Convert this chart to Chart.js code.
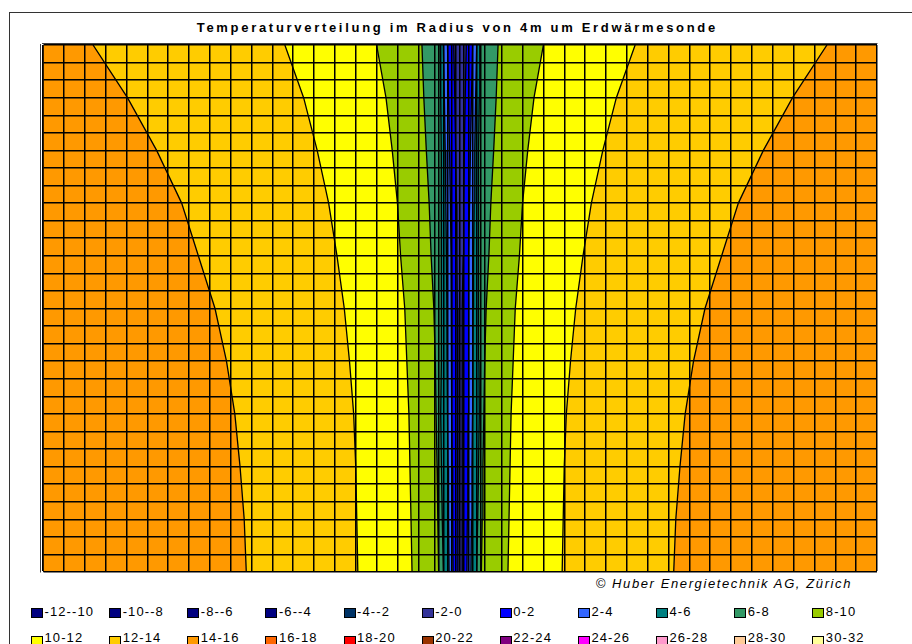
<!DOCTYPE html>
<html lang="de">
<head>
  <meta charset="UTF-8">
  <title>Temperaturverteilung im Radius von 4m um Erdwärmesonde</title>
  <script src="https://cdn.jsdelivr.net/npm/chart.js"></script>
  <style>
    html, body {
      margin: 0;
      width: 912px;
      height: 644px;
      overflow: hidden;
      background: #fff;
      font-family: "Liberation Sans", Arial, sans-serif;
    }
    .frame {
      position: absolute;
      left: 9px;
      top: 12px;
      width: 1000px;
      height: 1000px;
      border-left: 1px solid #333;
      border-top: 1px solid #333;
    }
    .title {
      position: absolute;
      left: 0;
      top: 21px;
      width: 912px;
      text-align: center;
      font-weight: bold;
      font-size: 13px;
      line-height: 13px;
      letter-spacing: 2.7px;
      padding-left: 2.7px;
      box-sizing: border-box;
    }
    .copy {
      position: absolute;
      right: 60px;
      top: 577px;
      font-style: italic;
      font-size: 13px;
      line-height: 13px;
      letter-spacing: 1.6px;
    }
    #chart {
      position: absolute;
      left: 40px;
      top: 43px;
    }
    .lg-box {
      position: absolute;
      width: 10px;
      height: 8px;
      border: 1px solid #000;
    }
    .lg-text {
      position: absolute;
      font-size: 13px;
      line-height: 13px;
      letter-spacing: 1.1px;
      white-space: nowrap;
    }
  </style>
</head>
<body>
  <div class="frame"></div>
  <div class="title">Temperaturverteilung im Radius von 4m um Erdwärmesonde</div>
  <canvas id="chart" width="840" height="532"></canvas>
  <div class="copy">© Huber Energietechnik AG, Zürich</div>
  <div id="legend"></div>

  <script>
    // depth rows (grid rows from top) where the isotherms were read
    const depthRows = [0, 3, 6, 9, 12, 15, 18, 21, 24, 27, 30];

    // radius (m) of each isotherm at those rows
    const iso14 = [3.52, 3.19, 2.91, 2.67, 2.51, 2.35, 2.24, 2.16, 2.11, 2.07, 2.05];
    const iso12 = [1.68, 1.50, 1.37, 1.26, 1.18, 1.11, 1.06, 1.02, 1.00, 0.99, 0.98];
    const iso10 = [0.80, 0.71, 0.65, 0.60, 0.57, 0.53, 0.51, 0.49, 0.48, 0.47, 0.46];
    const iso8 = [0.365, 0.347, 0.323, 0.296, 0.277, 0.251, 0.237, 0.229, 0.22, 0.213, 0.205];
    const iso6 = [0.19, 0.185, 0.18, 0.178, 0.176, 0.178, 0.182, 0.185, 0.178, 0.17, 0.16];
    const iso4 = [0.16, 0.15, 0.142, 0.136, 0.13, 0.126, 0.124, 0.12, 0.115, 0.11, 0.105];
    const iso2 = [0.12, 0.11, 0.10, 0.092, 0.086, 0.082, 0.08, 0.078, 0.075, 0.07, 0.067];
    const iso0 = [0.06, 0.05, 0.042, 0.035, 0.03, 0.026, 0.022, 0.02, 0.02, 0.02, 0.02];

    // plot reaches 4 m on each side of the probe
    const outerRadius = 4;

    // column edges of the surface grid (radius, m), mirrored on both sides
    const gridRadii = [0, 0.04, 0.08, 0.12, 0.16, 0.2, 0.24, 0.4, 0.6, 0.8, 1.0, 1.2, 1.4, 1.6, 1.8,
      2.0, 2.2, 2.4, 2.6, 2.8, 3.0, 3.2, 3.4, 3.6, 3.8, 4.0];

    const tempClasses = ['-12--10', '-10--8', '-8--6', '-6--4', '-4--2', '-2-0', '0-2', '2-4', '4-6', '6-8', '8-10',
      '10-12', '12-14', '14-16', '16-18', '18-20', '20-22', '22-24', '24-26', '26-28', '28-30', '30-32'];
    const classColors = ['#000080', '#000080', '#000080', '#000080', '#003366', '#333399', '#0000FF', '#3366FF', '#008080', '#339966', '#99CC00',
      '#FFFF00', '#FFCC00', '#FF9900', '#FF6600', '#FF0000', '#993300', '#800080', '#FF00FF', '#FF99CC', '#FFCC99', '#FFFF99'];

    // every band covers the area inside its outer isotherm; inner bands are painted over it
    const bands = [
      { cls: '14-16', r: depthRows.map(() => outerRadius) },
      { cls: '12-14', r: iso14 },
      { cls: '10-12', r: iso12 },
      { cls: '8-10', r: iso10 },
      { cls: '6-8', r: iso8 },
      { cls: '4-6', r: iso6 },
      { cls: '2-4', r: iso4 },
      { cls: '0-2', r: iso2 },
      { cls: '-2-0', r: iso0 }
    ];

    const gridX = gridRadii.slice(1).reverse().map(v => -v).concat(gridRadii);

    // dataset 0 is drawn last, so innermost band goes first
    const datasets = bands.slice().reverse().map(b => {
      const left = depthRows.map((d, i) => ({ x: -b.r[i], y: d }));
      const right = depthRows.map((d, i) => ({ x: b.r[i], y: d })).reverse();
      return {
        label: b.cls,
        data: left.concat(right),
        fill: 'shape',
        backgroundColor: classColors[tempClasses.indexOf(b.cls)],
        borderColor: '#000',
        borderWidth: 1.3,
        pointRadius: 0,
        tension: 0
      };
    });

    new Chart(document.getElementById('chart'), {
      type: 'line',
      data: { datasets },
      options: {
        indexAxis: 'y',
        responsive: false,
        animation: false,
        events: [],
        layout: { padding: { left: 3, right: 3, top: 2, bottom: 3 } },
        plugins: {
          legend: { display: false },
          tooltip: { enabled: false },
          title: { display: false }
        },
        scales: {
          x: {
            type: 'linear',
            min: -outerRadius,
            max: outerRadius,
            afterBuildTicks: scale => { scale.ticks = gridX.map(v => ({ value: v })); },
            ticks: { display: false },
            grid: { color: '#000', lineWidth: 1.5, drawTicks: false, z: 1 },
            border: { color: '#000', width: 1.5 }
          },
          y: {
            type: 'linear',
            reverse: true,
            min: 0,
            max: 30,
            ticks: { display: false, stepSize: 1 },
            grid: { color: '#000', lineWidth: 1.5, drawTicks: false, z: 1 },
            border: { color: '#000', width: 1.5 }
          }
        }
      }
    });

    // legend: two rows of eleven classes
    const legend = document.getElementById('legend');
    tempClasses.forEach((cls, i) => {
      const col = i % 11;
      const row = Math.floor(i / 11);
      const x = 31 + col * 78.13;
      const box = document.createElement('div');
      box.className = 'lg-box';
      box.style.left = x + 'px';
      box.style.top = (608 + row * 27.5) + 'px';
      box.style.background = classColors[i];
      legend.appendChild(box);
      const txt = document.createElement('div');
      txt.className = 'lg-text';
      txt.style.left = (x + 13.5) + 'px';
      txt.style.top = (605 + row * 26) + 'px';
      txt.textContent = cls;
      legend.appendChild(txt);
    });
  </script>
</body>
</html>
